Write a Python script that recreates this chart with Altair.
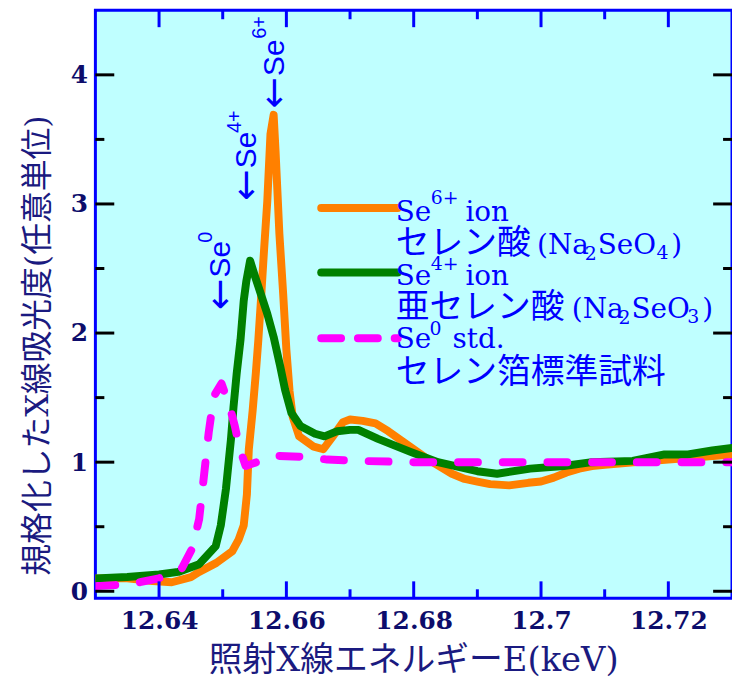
import altair as alt
import pandas as pd

# ---------------- data ----------------
se6_x = [12.6300, 12.6350, 12.6390, 12.6420, 12.6450, 12.6463, 12.6490, 12.6515, 12.6525, 12.6533,
         12.6538, 12.6541, 12.6547, 12.6552, 12.6556, 12.6560, 12.6565, 12.6570, 12.6575, 12.6580,
         12.6583, 12.6589, 12.6595, 12.6600, 12.6605, 12.6610, 12.6620, 12.6643, 12.6658, 12.6673,
         12.6689, 12.6700, 12.6720, 12.6740, 12.6760, 12.6780, 12.6800, 12.6820, 12.6840, 12.6860,
         12.6880, 12.6900, 12.6920, 12.6950, 12.6980, 12.7000, 12.7020, 12.7040, 12.7060, 12.7080,
         12.7100, 12.7150, 12.7200, 12.7250, 12.7300]
se6_y = [0.10, 0.10, 0.08, 0.07, 0.11, 0.15, 0.22, 0.31, 0.40, 0.51,
         0.75, 1.10, 1.40, 1.69, 1.95, 2.25, 2.65, 3.02, 3.54, 3.69,
         3.41, 2.77, 2.30, 1.87, 1.55, 1.35, 1.20, 1.12, 1.10, 1.20,
         1.31, 1.33, 1.32, 1.30, 1.24, 1.17, 1.10, 1.03, 0.97, 0.91,
         0.87, 0.85, 0.83, 0.82, 0.84, 0.85, 0.88, 0.92, 0.95, 0.97,
         0.98, 1.00, 1.02, 1.04, 1.06]

se4_x = [12.6300, 12.6350, 12.6400, 12.6430, 12.6463, 12.6489, 12.6497, 12.6505, 12.6513, 12.6517,
         12.6522, 12.6528, 12.6533, 12.6537, 12.6543, 12.6550, 12.6560, 12.6570, 12.6580, 12.6590,
         12.6598, 12.6608, 12.6622, 12.6645, 12.6660, 12.6680, 12.6700, 12.6713, 12.6744, 12.6795,
         12.6838, 12.6900, 12.6931, 12.6983, 12.7036, 12.7080, 12.7144, 12.7194, 12.7231, 12.7269,
         12.7300]
se4_y = [0.10, 0.11, 0.13, 0.15, 0.21, 0.35, 0.51, 0.79, 1.18, 1.43,
         1.69, 1.95, 2.25, 2.40, 2.56, 2.45, 2.30, 2.15, 1.97, 1.75,
         1.56, 1.38, 1.28, 1.22, 1.20, 1.24, 1.25, 1.25, 1.18, 1.08,
         1.00, 0.93, 0.91, 0.95, 0.97, 1.00, 1.01, 1.06, 1.06, 1.09,
         1.11]

se0_x = [12.6300, 12.6340, 12.6370, 12.6400, 12.6436, 12.6452, 12.6463, 12.6470, 12.6478, 12.6486,
         12.6498, 12.6511, 12.6519, 12.6527, 12.6536, 12.6559, 12.6581, 12.6633, 12.6664, 12.6710,
         12.6800, 12.6900, 12.7000, 12.7100, 12.7200, 12.7300]
se0_y = [0.04, 0.05, 0.07, 0.10, 0.18, 0.33, 0.56, 0.87, 1.23, 1.51,
         1.61, 1.43, 1.28, 1.10, 0.97, 1.01, 1.05, 1.04, 1.02, 1.01,
         1.00, 1.00, 1.00, 1.00, 1.00, 1.00]

# axis ticks
x_major = [12.64, 12.66, 12.68, 12.70, 12.72]
x_minor = [12.65, 12.67, 12.69, 12.71]
y_major = [0, 1, 2, 3, 4]
y_minor = [0.5, 1.5, 2.5, 3.5]

# legend (inside the plot)
leg_line_x = [12.66547, 12.66547, 12.66547]
leg_line_x2 = [12.6775, 12.6775, 12.6775]
leg_line_y = [2.969, 2.469, 1.96]
leg_line_color = ["#ff8000", "#008000", "#ff00ff"]

leg_text = ["Se", "6+", "ion", "(Na", "2", "SeO", "4", ")",
            "Se", "4+", "ion", "(Na", "2", "SeO", "3", ")",
            "Se", "0", "std."]
leg_x = [12.67719, 12.68266, 12.68813, 12.69938, 12.70688, 12.70890, 12.71813, 12.72047,
         12.67719, 12.68266, 12.68813, 12.70484, 12.71219, 12.71422, 12.72297, 12.72531,
         12.67719, 12.68250, 12.68609]
leg_y = [2.869, 3.000, 2.869, 2.615, 2.569, 2.615, 2.577, 2.615,
         2.369, 2.485, 2.369, 2.115, 2.069, 2.115, 2.077, 2.115,
         1.885, 1.985, 1.885]
leg_size = [28, 19, 28, 28, 19, 28, 19, 28,
            28, 19, 28, 28, 19, 28, 19, 28,
            28, 19, 28]

cjk_text = ["セレン酸", "亜セレン酸", "セレン箔標準試料"]
cjk_x = [12.67719, 12.67719, 12.67719]
cjk_y = [2.615, 2.115, 1.615]

# peak annotations (rotated): arrows, "Se", superscripts
arr_x = [12.6497, 12.6538, 12.6583]
arr_y = [2.177, 3.023, 3.738]
se_y = [2.431, 3.277, 3.992]
sup_text = ["0", "4+", "6+"]
sup_x = [12.64734, 12.65188, 12.65594]
sup_y = [2.70, 3.55, 4.28]

# ---------------- chart ----------------
W, H = 641, 592
NAVY = "#0d0d6b"
TNAVY = "#1a1a80"
BLUE = "#0000ff"
xs = alt.Scale(domain=[12.63, 12.73], nice=False, zero=False)
ys = alt.Scale(domain=[-0.054, 4.5], nice=False, zero=False)

df6 = pd.DataFrame({"x": se6_x, "y": se6_y})
df4 = pd.DataFrame({"x": se4_x, "y": se4_y})
df0 = pd.DataFrame({"x": se0_x, "y": se0_y})

x_axis = alt.Axis(values=x_major, format="~g", title="照射X線エネルギーE(keV)", grid=False,
                  ticks=False, tickSize=0, domain=False,
                  labelFont="DejaVu Serif", labelFontWeight="bold", labelFontSize=25,
                  labelColor=NAVY, labelPadding=10,
                  titleFont="DejaVu Serif, Noto Sans CJK JP", titleFontSize=34,
                  titleFontWeight="normal", titleColor=TNAVY,
                  titleX=320, titleY=73, titleAlign="center", titleBaseline="alphabetic")
y_axis = alt.Axis(values=y_major, format="d", title="規格化したX線吸光度(任意単位)", grid=False,
                  ticks=False, tickSize=0, domain=False,
                  labelFont="DejaVu Serif", labelFontWeight="bold", labelFontSize=25,
                  labelColor=NAVY, labelPadding=8,
                  titleFont="DejaVu Serif, Noto Sans CJK JP", titleFontSize=32,
                  titleFontWeight="normal", titleColor=TNAVY,
                  titleAngle=270, titleX=-58, titleY=337, titleAlign="center", titleBaseline="middle")


def X(field):
    return alt.X(field, scale=xs, axis=x_axis)


def Y(field):
    return alt.Y(field, scale=ys, axis=y_axis)


line_kw = dict(strokeWidth=8, strokeCap="round", strokeJoin="round", clip=True)
l6 = alt.Chart(df6).mark_line(color="#ff8000", **line_kw).encode(x=X("x:Q"), y=Y("y:Q"))
l4 = alt.Chart(df4).mark_line(color="#008000", **line_kw).encode(x=X("x:Q"), y=Y("y:Q"))
l0 = alt.Chart(df0).mark_line(color="#ff00ff", strokeDash=[20, 25], **line_kw).encode(
    x=X("x:Q"), y=Y("y:Q"))


# ticks (inward)
def xticks(vals, length, color):
    d = pd.DataFrame({"x": vals})
    b = alt.Chart(d).mark_rule(color=color, strokeWidth=3).encode(
        x=X("x:Q"), y=alt.value(H), y2=alt.value(H - length))
    t = alt.Chart(d).mark_rule(color=color, strokeWidth=3).encode(
        x=X("x:Q"), y=alt.value(0), y2=alt.value(length))
    return [b, t]


def yticks(vals, length, color):
    d = pd.DataFrame({"y": vals})
    l = alt.Chart(d).mark_rule(color=color, strokeWidth=3).encode(
        y=Y("y:Q"), x=alt.value(0), x2=alt.value(length))
    r = alt.Chart(d).mark_rule(color=color, strokeWidth=3).encode(
        y=Y("y:Q"), x=alt.value(W), x2=alt.value(W - length))
    return [l, r]


tick_layers = (xticks(x_major, 17, "#0000ff") + xticks(x_minor, 9, "#0000ff")
               + yticks(y_major, 19, "#000000") + yticks(y_minor, 9, "#000000"))

# legend lines
dleg = pd.DataFrame({"x": leg_line_x, "x2": leg_line_x2, "y": leg_line_y, "c": leg_line_color})
leg_solid = alt.Chart(dleg.iloc[:2]).mark_rule(strokeWidth=8, strokeCap="round").encode(
    x=X("x:Q"), x2="x2:Q", y=Y("y:Q"), color=alt.Color("c:N", scale=None))
leg_dash = alt.Chart(dleg.iloc[2:]).mark_rule(strokeWidth=8, strokeCap="round",
                                               strokeDash=[20, 17]).encode(
    x=X("x:Q"), x2="x2:Q", y=Y("y:Q"), color=alt.Color("c:N", scale=None))

dlt = pd.DataFrame({"t": leg_text, "x": leg_x, "y": leg_y, "s": leg_size})
leg_txt = alt.Chart(dlt).mark_text(font="DejaVu Serif", color=BLUE, align="left",
                                    baseline="alphabetic").encode(
    x=X("x:Q"), y=Y("y:Q"), text="t:N", size=alt.Size("s:Q", scale=None))

dcj = pd.DataFrame({"t": cjk_text, "x": cjk_x, "y": cjk_y})
cjk_txt = alt.Chart(dcj).mark_text(font="Noto Sans CJK JP", fontSize=34, color=BLUE, align="left",
                                    baseline="alphabetic").encode(
    x=X("x:Q"), y=Y("y:Q"), text="t:N")

# rotated peak labels
darr = pd.DataFrame({"x": arr_x, "y": arr_y, "t": ["←"] * 3})
arr_txt = alt.Chart(darr).mark_text(font="DejaVu Sans", fontSize=38, color=BLUE, align="left",
                                     baseline="middle", angle=270).encode(
    x=X("x:Q"), y=Y("y:Q"), text="t:N")
dse = pd.DataFrame({"x": arr_x, "y": se_y, "t": ["Se"] * 3})
se_txt = alt.Chart(dse).mark_text(font="Liberation Sans", fontSize=30, color=BLUE, align="left",
                                   baseline="middle", angle=270).encode(
    x=X("x:Q"), y=Y("y:Q"), text="t:N")
dsup = pd.DataFrame({"x": sup_x, "y": sup_y, "t": sup_text})
sup_txt = alt.Chart(dsup).mark_text(font="Liberation Sans", fontSize=20, color=BLUE, align="left",
                                     baseline="middle", angle=270).encode(
    x=X("x:Q"), y=Y("y:Q"), text="t:N")

chart = alt.layer(
    l6, l4, l0, *tick_layers, leg_solid, leg_dash, leg_txt, cjk_txt, arr_txt, se_txt, sup_txt
).properties(
    width=W, height=H,
    padding={"left": 88, "top": 0, "right": 0, "bottom": 78},
    autosize=alt.AutoSizeParams(type="none"),
    background="white",
).configure_view(
    fill="#bfffff", stroke="#0000ff", strokeWidth=3
)

chart.save("out.html", embed_options={"renderer": "svg", "actions": False})
